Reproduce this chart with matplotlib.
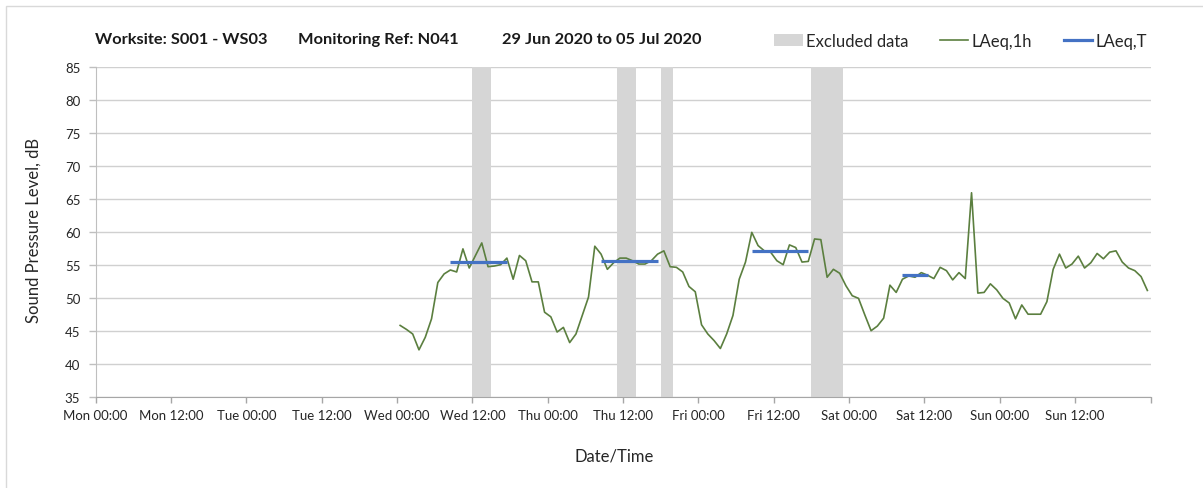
import numpy as np
import pandas as pd
import matplotlib
matplotlib.use("Agg")
import matplotlib.pyplot as plt
import matplotlib.dates as mdates
from matplotlib.patches import Patch, Rectangle
from matplotlib.lines import Line2D
from matplotlib.ticker import FuncFormatter

plt.rcParams["font.family"] = ["Lato", "DejaVu Sans"]

# hourly LAeq,1h values, one list per day (hh:30 each hour)
wed_1h = [45.8, 45.2, 44.5, 42.1, 44.0, 46.8, 52.3, 53.6, 54.2, 53.9, 57.4, 54.5,
          56.4, 58.3, 54.7, 54.8, 55.0, 56.0, 52.8, 56.4, 55.6, 52.4, 52.4, 47.8]
thu_1h = [47.1, 44.8, 45.5, 43.2, 44.5, 47.3, 50.1, 57.8, 56.6, 54.3, 55.3, 56.0,
          56.0, 55.6, 55.1, 55.1, 55.6, 56.6, 57.1, 54.7, 54.6, 53.9, 51.7, 50.9]
fri_1h = [45.9, 44.5, 43.5, 42.3, 44.5, 47.3, 52.8, 55.4, 59.9, 57.9, 57.1, 56.9,
          55.6, 55.0, 58.0, 57.6, 55.4, 55.5, 58.9, 58.8, 53.1, 54.3, 53.7, 51.8]
sat_1h = [50.3, 49.9, 47.4, 45.0, 45.7, 46.9, 51.9, 50.8, 52.8, 53.3, 53.1, 53.8,
          53.4, 52.9, 54.6, 54.1, 52.7, 53.8, 52.9, 65.9, 50.7, 50.8, 52.1, 51.2]
sun_1h = [49.9, 49.2, 46.8, 48.9, 47.5, 47.5, 47.5, 49.4, 54.3, 56.6, 54.5, 55.1,
          56.3, 54.5, 55.3, 56.7, 55.9, 56.9, 57.1, 55.4, 54.5, 54.1, 53.2, 51.1]
first_reading = "2020-07-01 00:30"

excluded_start = ["2020-07-01 12:00", "2020-07-02 11:00", "2020-07-02 18:00", "2020-07-03 18:00"]
excluded_end = ["2020-07-01 15:00", "2020-07-02 14:00", "2020-07-02 20:00", "2020-07-03 23:00"]

laeqt_start = ["2020-07-01 08:30", "2020-07-02 08:30", "2020-07-03 08:30", "2020-07-04 08:30"]
laeqt_end = ["2020-07-01 17:30", "2020-07-02 17:30", "2020-07-03 17:30", "2020-07-04 12:30"]
laeqt_value = [55.4, 55.5, 57.1, 53.4]

period_start = "2020-06-29 00:00"
period_end = "2020-07-06 00:00"

GREEN = "#5b7f3f"
BLUE = "#4472c4"
BAND = "#d6d6d6"

values = wed_1h + thu_1h + fri_1h + sat_1h + sun_1h
times = pd.date_range(first_reading, periods=len(values), freq="h")

W, H = 1203, 489
fig = plt.figure(figsize=(W / 100, H / 100), dpi=100)
fig.patch.set_facecolor("white")
ax = fig.add_axes([95.6 / W, 1 - 397.7 / H, (1150.5 - 95.6) / W, (397.7 - 67.7) / H])

for s, e in zip(excluded_start, excluded_end):
    ax.axvspan(pd.Timestamp(s), pd.Timestamp(e), color=BAND, lw=0, zorder=1)

ax.plot(times, values, color=GREEN, lw=1.2, zorder=3)

for s, e, v in zip(laeqt_start, laeqt_end, laeqt_value):
    ax.plot([pd.Timestamp(s), pd.Timestamp(e)], [v, v], color=BLUE, lw=2.3, zorder=4,
            solid_capstyle="butt")

xmin, xmax = pd.Timestamp(period_start), pd.Timestamp(period_end)
ax.set_xlim(xmin, xmax)
ax.set_ylim(35, 85)
ax.set_yticks(np.arange(35, 86, 5))

end_num = mdates.date2num(xmax)


def tick_label(x, pos):
    if abs(x - end_num) < 1e-6:
        return ""
    return mdates.num2date(x).strftime("%a %H:%M")


ax.xaxis.set_major_locator(mdates.HourLocator(byhour=[0, 12]))
ax.xaxis.set_major_formatter(FuncFormatter(tick_label))
ax.xaxis.set_minor_locator(mdates.DayLocator())

ax.grid(axis="y", color="#d0d0d0", lw=1, zorder=0)
ax.grid(axis="x", which="minor", color="#e2e2e2", lw=1, zorder=0)
ax.set_axisbelow(True)

ax.tick_params(axis="x", which="major", length=4, width=1, color="#a6a6a6",
               labelsize=9.5, pad=5, labelcolor="#262626")
ax.tick_params(axis="x", which="minor", length=0)
ax.tick_params(axis="y", length=5, width=1, color="#bfbfbf", labelsize=9.5, pad=6,
               labelcolor="#262626")

for side in ["top", "right"]:
    ax.spines[side].set_visible(False)
ax.spines["left"].set_color("#bfbfbf")
ax.spines["bottom"].set_color("#a6a6a6")

fig.text(34 / W, 1 - 230 / H, "Sound Pressure Level, dB", rotation=90,
         ha="center", va="center", fontsize=12, color="#262626")
fig.text(614 / W, 1 - 457 / H, "Date/Time", ha="center", va="center",
         fontsize=12, color="#262626")

title_parts = ["Worksite: S001 - WS03", "Monitoring Ref: N041", "29 Jun 2020 to 05 Jul 2020"]
title_x = [95, 298, 502]
for txt, x in zip(title_parts, title_x):
    fig.text(x / W, 1 - 40 / H, txt, ha="left", va="center", fontsize=11.8,
             fontweight="bold", color="#1a1a1a")

handles = [Patch(facecolor=BAND, edgecolor="none"),
           Line2D([], [], color=GREEN, lw=1.2),
           Line2D([], [], color=BLUE, lw=2.3)]
labels = ["Excluded data", "LAeq,1h", "LAeq,T"]
fig.legend(handles, labels, loc="center right", bbox_to_anchor=(1162 / W, 1 - 42 / H),
           ncol=3, frameon=False, fontsize=12, handlelength=1.7, handleheight=0.75,
           handletextpad=0.2, columnspacing=1.9, labelcolor="#262626")

fig.add_artist(Rectangle((5.7 / W, -0.05), 1.1, 1 - 6.7 / H + 0.05,
                         transform=fig.transFigure, fill=False, edgecolor="#d9d9d9", lw=1))

fig.savefig("out.png", dpi=100, facecolor="white")
